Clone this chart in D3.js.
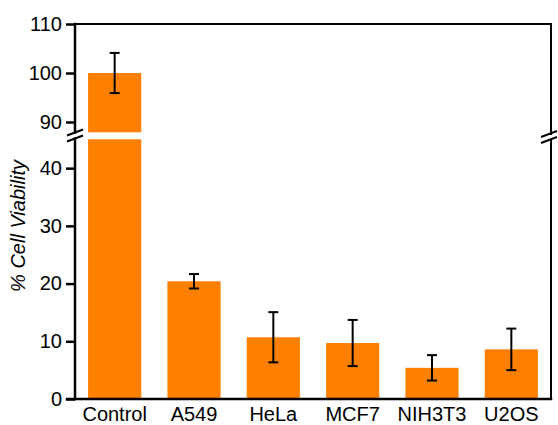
<!DOCTYPE html>
<html>
<head>
<meta charset="utf-8">
<script src="https://cdn.jsdelivr.net/npm/d3@7"></script>
<style>
  html, body { margin: 0; padding: 0; background: #fff; }
  svg { display: block; }
  text { font-family: "Liberation Sans", Arial, sans-serif; }
</style>
</head>
<body>
<svg id="chart" width="558" height="425"></svg>
<script>
// Cell viability per line, mean and error (%)
const categories = ["Control", "A549", "HeLa", "MCF7", "NIH3T3", "U2OS"];
const viability  = [100, 20.4, 10.7, 9.7, 5.4, 8.6];
const errors     = [4.1, 1.25, 4.35, 4.0, 2.2, 3.6];
const upperTicks = [90, 100, 110];
const lowerTicks = [0, 10, 20, 30, 40];
const upperDomain = [87.9, 110];
const lowerDomain = [0, 45];

const svg = d3.select("#chart");
const plotLeft = 75, plotRight = 551, plotTop = 24, plotBottom = 399;
const upperBottomPx = 132.3, lowerTopPx = 139.3;
const orange = "#ff8000";
const fontSize = 20;

const x = d3.scaleBand().domain(categories).range([plotLeft, plotRight])
  .paddingInner(0.33).paddingOuter(0.165);
const yUp = d3.scaleLinear().domain(upperDomain).range([upperBottomPx, plotTop]);
const yLo = d3.scaleLinear().domain(lowerDomain).range([plotBottom, lowerTopPx]);

const data = categories.map((c, i) => ({ c, v: viability[i], e: errors[i] }));

// Bars: lower segment (clipped at the break) and, where needed, upper segment
const bars = svg.append("g");
data.forEach(d => {
  const lowTop = Math.min(d.v, lowerDomain[1]);
  bars.append("rect")
    .attr("x", x(d.c)).attr("width", x.bandwidth())
    .attr("y", yLo(lowTop)).attr("height", yLo(0) - yLo(lowTop))
    .attr("fill", orange);
  if (d.v > upperDomain[0]) {
    bars.append("rect")
      .attr("x", x(d.c)).attr("width", x.bandwidth())
      .attr("y", yUp(d.v)).attr("height", yUp(upperDomain[0]) - yUp(d.v))
      .attr("fill", orange);
  }
});

// Error bars
const yOf = v => v > lowerDomain[1] ? yUp(v) : yLo(v);
const eb = svg.append("g").attr("stroke", "#000").attr("stroke-width", 2).attr("fill", "none");
data.forEach(d => {
  const cx = x(d.c) + x.bandwidth() / 2;
  const y1 = yOf(d.v + d.e), y2 = yOf(d.v - d.e);
  eb.append("line").attr("x1", cx).attr("x2", cx).attr("y1", y1).attr("y2", y2);
  eb.append("line").attr("x1", cx - 5).attr("x2", cx + 5).attr("y1", y1).attr("y2", y1);
  eb.append("line").attr("x1", cx - 5).attr("x2", cx + 5).attr("y1", y2).attr("y2", y2);
});

// Y axes (two segments)
function styleAxis(g) {
  g.select(".domain").remove();
  g.selectAll(".tick line").attr("stroke", "#000").attr("stroke-width", 2.5);
  g.selectAll(".tick text").attr("font-size", fontSize).attr("fill", "#000")
    .attr("font-family", "'Liberation Sans', Arial, sans-serif");
}
svg.append("g").attr("transform", `translate(${plotLeft},0)`)
  .call(d3.axisLeft(yUp).tickValues(upperTicks).tickSize(9).tickPadding(4))
  .call(styleAxis);
svg.append("g").attr("transform", `translate(${plotLeft},0)`)
  .call(d3.axisLeft(yLo).tickValues(lowerTicks).tickSize(9).tickPadding(4))
  .call(styleAxis);

// X axis labels
svg.append("g").attr("transform", `translate(0,${plotBottom})`)
  .call(d3.axisBottom(x).tickSize(0).tickPadding(8))
  .call(g => {
    g.select(".domain").remove();
    g.selectAll(".tick text").attr("font-size", fontSize).attr("fill", "#000")
      .attr("font-family", "'Liberation Sans', Arial, sans-serif");
  });

// Frame lines with breaks
const frame = svg.append("g").attr("stroke", "#000").attr("fill", "none").attr("stroke-linecap", "square");
const gapTop = 132.5, gapBot = 138.5;
frame.append("line").attr("x1", plotLeft).attr("x2", plotLeft).attr("y1", plotTop).attr("y2", gapTop).attr("stroke-width", 2.5);
frame.append("line").attr("x1", plotLeft).attr("x2", plotLeft).attr("y1", gapBot).attr("y2", plotBottom).attr("stroke-width", 2.5);
frame.append("line").attr("x1", plotLeft - 8).attr("x2", plotRight).attr("y1", plotBottom).attr("y2", plotBottom).attr("stroke-width", 2.5);
frame.append("line").attr("x1", plotLeft).attr("x2", plotRight).attr("y1", plotTop).attr("y2", plotTop).attr("stroke-width", 2);
frame.append("line").attr("x1", plotRight).attr("x2", plotRight).attr("y1", plotTop).attr("y2", gapTop + 1.5).attr("stroke-width", 2);
frame.append("line").attr("x1", plotRight).attr("x2", plotRight).attr("y1", gapBot + 1.5).attr("y2", plotBottom).attr("stroke-width", 2);

// Break slashes
function breakMark(cx, cy) {
  [-3, 3].forEach(off => {
    svg.append("line")
      .attr("x1", cx - 8).attr("y1", cy + off + 3)
      .attr("x2", cx + 8).attr("y2", cy + off - 3)
      .attr("stroke", "#000").attr("stroke-width", 2);
  });
}
breakMark(plotLeft, 135.5);
breakMark(plotRight - 2, 137);

// Y title
svg.append("text")
  .attr("transform", `translate(25,226) rotate(-90)`)
  .attr("text-anchor", "middle")
  .attr("font-size", fontSize).attr("font-style", "italic").attr("fill", "#000")
  .text("% Cell Viability");
</script>
</body>
</html>
